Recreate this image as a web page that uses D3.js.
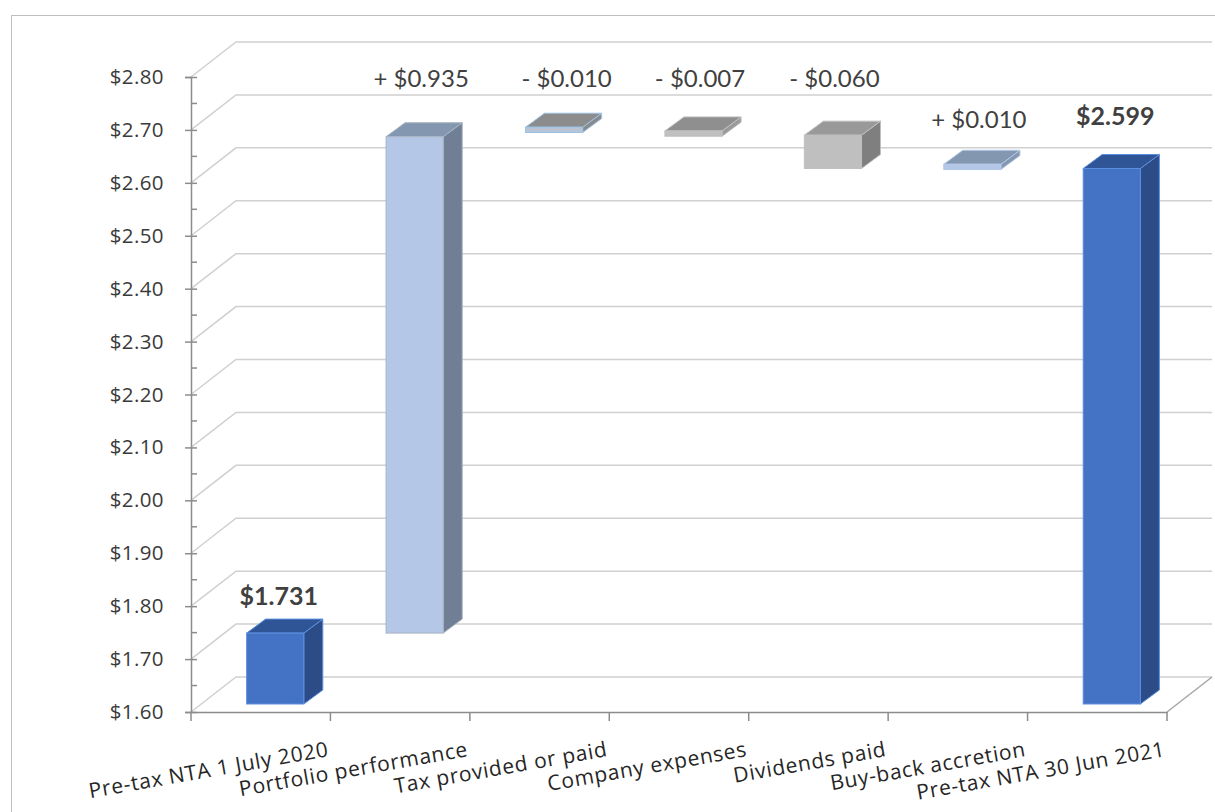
<!DOCTYPE html>
<html>
<head>
<meta charset="utf-8">
<script src="https://cdn.jsdelivr.net/npm/d3@7"></script>
<style>
  html, body { margin: 0; padding: 0; background: #fff; }
  svg { display: block; }
</style>
</head>
<body>
<svg id="chart" width="1215" height="812"></svg>
<script>
// ---- data ----
const categories = ["Pre-tax NTA 1 July 2020", "Portfolio performance", "Tax provided or paid",
  "Company expenses", "Dividends paid", "Buy-back accretion", "Pre-tax NTA 30 Jun 2021"];
// bar extents as drawn in the picture (bottom / top of each floating column)
const barLow  = [1.600, 1.734, 2.680, 2.673, 2.612, 2.610, 1.600];
const barHigh = [1.734, 2.672, 2.690, 2.683, 2.675, 2.620, 2.612];
const labelText = ["$1.731", "+ $0.935", "- $0.010", "- $0.007", "- $0.060", "+ $0.010", "$2.599"];
const labelBold = [true, false, false, false, false, false, true];
const yTicks = [1.6, 1.7, 1.8, 1.9, 2.0, 2.1, 2.2, 2.3, 2.4, 2.5, 2.6, 2.7, 2.8];

// ---- styles / layout ----
const barStyle = [
  {front: "#4472C4", top: "#2F5597", side: "#2B4C86", stroke: "#5B8FE0"},
  {front: "#B4C7E7", top: "#8497B0", side: "#707F95", stroke: "#A9B4C2"},
  {front: "#B8C4D6", top: "#8C8C8C", side: "#8A8A8A", stroke: "#9DC3E6"},
  {front: "#C0C0C0", top: "#8F8F8F", side: "#9A9A9A", stroke: "#BFBFBF"},
  {front: "#BFBFBF", top: "#999999", side: "#7F7F7F", stroke: "#BFBFBF"},
  {front: "#B4C7E7", top: "#8497B0", side: "#8497B0", stroke: "#B4C7E7"},
  {front: "#4472C4", top: "#2F5597", side: "#2B4C86", stroke: "#5B8FE0"}
];
const labelY = [595, 77, 77, 77, 77, 118, 115];
const labelDx = [18, 21, 27, 21, 16, 21, 18];

const x0 = 191, x1 = 1167;
const depth = {dx: 45, dy: -35};
const barOff = {dx: 14.5, dy: -8};
const barDepth = {dx: 19, dy: -14};
const axisFont = "'Open Sans', Lato, sans-serif";
const valueFont = "Lato, 'Open Sans', sans-serif";

const svg = d3.select("#chart");

// chart border
svg.append("rect").attr("x", 11.5).attr("y", 15.5).attr("width", 1300).attr("height", 900)
  .attr("fill", "#fff").attr("stroke", "#BFBFBF").attr("stroke-width", 1);

const y = d3.scaleLinear().domain([1.6, 2.8]).range([712, 77]);
const x = d3.scaleBand().domain(categories).range([x0, x1]).paddingInner(0).paddingOuter(0);
const bw = x.bandwidth();

// gridlines (side wall diagonal + back wall horizontal)
const grid = svg.append("g");
yTicks.forEach(t => {
  const yy = y(t);
  grid.append("path")
    .attr("d", `M${x0},${yy} L${x0 + depth.dx},${yy + depth.dy} L${x1 + depth.dx},${yy + depth.dy}`)
    .attr("fill", "none").attr("stroke", "#D0D0D0").attr("stroke-width", 1.5);
});
// floor right edge
svg.append("path")
  .attr("d", `M${x1},${y(1.6)} L${x1 + depth.dx},${y(1.6) + depth.dy}`)
  .attr("fill", "none").attr("stroke", "#A6A6A6").attr("stroke-width", 1.5);

// y axis
const yAxis = d3.axisLeft(y).tickValues(yTicks).tickFormat(d => "$" + d.toFixed(2)).tickSize(6).tickPadding(22);
const gy = svg.append("g").attr("transform", `translate(${x0},0)`).call(yAxis);
gy.select(".domain").attr("stroke", "#8C8C8C").attr("stroke-width", 1.5);
gy.selectAll(".tick line").attr("stroke", "#8C8C8C").attr("stroke-width", 1.5).attr("x2", 6).attr("x1", -6);
gy.selectAll(".tick text").attr("fill", "#3A3A3A")
  .style("font-family", axisFont).style("font-size", "20.5px").style("letter-spacing", "0.4px").attr("x", -27);
// minor ticks
const minor = d3.range(1.65, 2.8, 0.1);
svg.append("g").selectAll("line").data(minor).join("line")
  .attr("x1", x0).attr("x2", x0 + 6).attr("y1", d => y(d)).attr("y2", d => y(d))
  .attr("stroke", "#8C8C8C").attr("stroke-width", 1.5);

// x axis
const xAxis = d3.axisBottom(x).tickSize(0).tickFormat("");
const gx = svg.append("g").attr("transform", `translate(0,${y(1.6)})`).call(xAxis);
gx.select(".domain").attr("stroke", "#8C8C8C").attr("stroke-width", 1.5);
const bounds = [x0].concat(categories.map(c => x(c) + bw));
svg.append("g").selectAll("line").data(bounds).join("line")
  .attr("x1", d => d).attr("x2", d => d).attr("y1", y(1.6)).attr("y2", y(1.6) + 9)
  .attr("stroke", "#8C8C8C").attr("stroke-width", 1.5);

// category labels
svg.append("g").selectAll("text").data(categories).join("text")
  .attr("transform", d => `translate(${x(d) + bw - 1},${y(1.6) + 44}) rotate(-10)`)
  .attr("text-anchor", "end")
  .attr("fill", "#262626")
  .style("font-family", axisFont).style("font-size", "21px").style("letter-spacing", "0.7px")
  .text(d => d);

// bars
const faceW = bw * 0.41;
const bars = svg.append("g");
categories.forEach((c, i) => {
  const st = barStyle[i];
  const fl = x(c) + bw / 2 + barOff.dx - faceW / 2;
  const fr = fl + faceW;
  const ft = y(barHigh[i]) + barOff.dy;
  const fb = y(barLow[i]) + barOff.dy;
  const g = bars.append("g");
  g.append("path")
    .attr("d", `M${fr},${ft} L${fr + barDepth.dx},${ft + barDepth.dy} L${fr + barDepth.dx},${fb + barDepth.dy} L${fr},${fb} Z`)
    .attr("fill", st.side).attr("stroke", st.stroke).attr("stroke-width", 1).attr("stroke-linejoin", "round");
  g.append("path")
    .attr("d", `M${fl},${ft} L${fl + barDepth.dx},${ft + barDepth.dy} L${fr + barDepth.dx},${ft + barDepth.dy} L${fr},${ft} Z`)
    .attr("fill", st.top).attr("stroke", st.stroke).attr("stroke-width", 1).attr("stroke-linejoin", "round");
  g.append("rect").attr("x", fl).attr("y", ft).attr("width", faceW).attr("height", Math.max(fb - ft, 1))
    .attr("fill", st.front).attr("stroke", st.stroke).attr("stroke-width", 1);
});

// value labels
svg.append("g").selectAll("text").data(labelText).join("text")
  .attr("x", (d, i) => x(categories[i]) + bw / 2 + labelDx[i])
  .attr("y", (d, i) => labelY[i])
  .attr("text-anchor", "middle").attr("dominant-baseline", "central")
  .attr("fill", "#404040")
  .style("font-family", valueFont)
  .style("font-size", (d, i) => labelBold[i] ? "25px" : "24px")
  .style("font-weight", (d, i) => labelBold[i] ? "bold" : "normal")
  .text(d => d);
</script>
</body>
</html>
